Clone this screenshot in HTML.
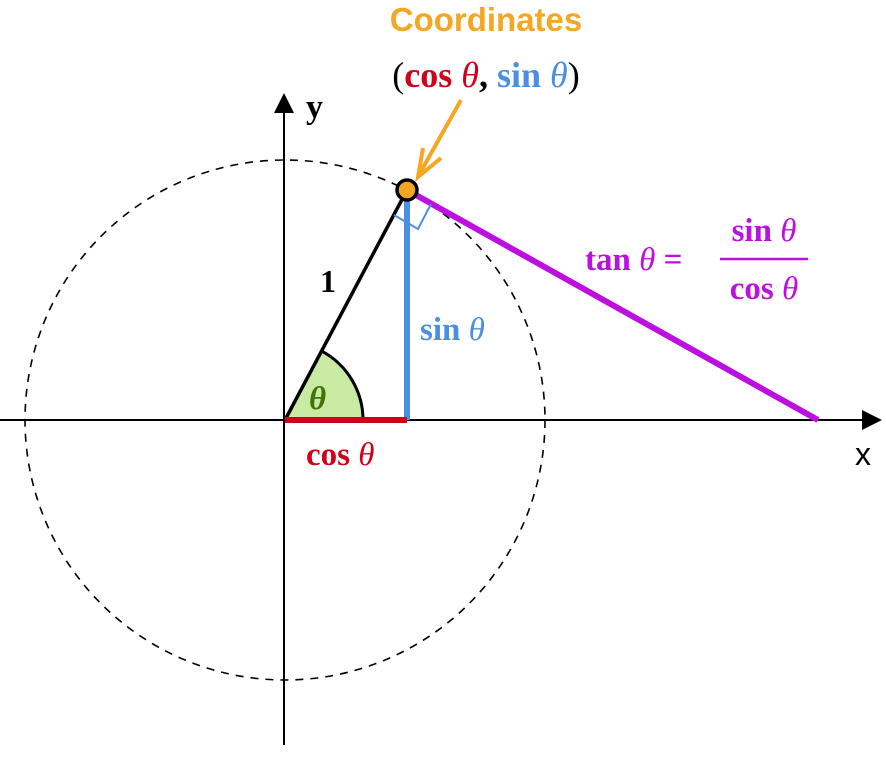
<!DOCTYPE html>
<html><head><meta charset="utf-8"><style>
html,body{margin:0;padding:0;background:#fff;}
svg{display:block;}
.m{font-family:"Liberation Serif",serif;font-weight:bold;}
</style></head><body>
<svg width="886" height="758" viewBox="0 0 886 758" xmlns="http://www.w3.org/2000/svg">
<circle cx="285" cy="420" r="260" fill="none" stroke="#000" stroke-width="1.6" stroke-dasharray="8,7"/>
<line x1="0" y1="420" x2="866" y2="420" stroke="#000" stroke-width="2"/>
<polygon points="882,420 862,410 862,430" fill="#000"/>
<line x1="284" y1="745" x2="284" y2="110" stroke="#000" stroke-width="2"/>
<polygon points="284,93 274,113 294,113" fill="#000"/>
<text x="855" y="465" font-family="Liberation Sans, sans-serif" font-size="32">x</text>
<text x="306" y="118" class="m" font-weight="normal" font-size="34">y</text>
<path d="M285,420 L321.6,351.1 A78,78 0 0 1 363,420 Z" fill="#c8eaa2" stroke="none"/>
<path d="M321.6,351.1 A78,78 0 0 1 363,420" fill="none" stroke="#000" stroke-width="3"/>
<text x="309" y="409" class="m" font-size="33" font-style="italic" font-weight="normal" fill="#417505">θ</text>
<line x1="285" y1="420" x2="407" y2="190" stroke="#000" stroke-width="3.5"/>
<text x="320" y="292" class="m" font-weight="normal" font-size="32">1</text>
<line x1="407" y1="190" x2="818" y2="420" stroke="#bd10e0" stroke-width="6"/>
<line x1="407" y1="192" x2="407" y2="420" stroke="#4a90e2" stroke-width="6"/>
<line x1="285" y1="420" x2="407" y2="420" stroke="#d0021b" stroke-width="6"/>
<polyline points="394,215 418,229 431,204" fill="none" stroke="#4a90e2" stroke-width="2"/>
<circle cx="407" cy="190" r="10" fill="#f5a623" stroke="#000" stroke-width="3.5"/>
<line x1="461" y1="100" x2="420" y2="173" stroke="#f5a623" stroke-width="4"/>
<polyline points="423,148 418,177 441,158" fill="none" stroke="#f5a623" stroke-width="4"/>
<text x="486" y="31" text-anchor="middle" font-family="Liberation Sans, sans-serif" font-weight="bold" font-size="33" fill="#f5a623">Coordinates</text>
<text x="486" y="87" text-anchor="middle" class="m" font-size="36"><tspan fill="#000" font-weight="normal">(</tspan><tspan fill="#d0021b">cos </tspan><tspan fill="#d0021b" font-style="italic" font-weight="normal">θ</tspan><tspan fill="#000">, </tspan><tspan fill="#4a90e2">sin </tspan><tspan fill="#4a90e2" font-style="italic" font-weight="normal">θ</tspan><tspan fill="#000" font-weight="normal">)</tspan></text>
<text x="420" y="340" class="m" font-size="33" fill="#4a90e2">sin <tspan font-style="italic" font-weight="normal">θ</tspan></text>
<text x="306" y="465" class="m" font-size="33" fill="#d0021b">cos <tspan font-style="italic" font-weight="normal">θ</tspan></text>
<g fill="#bd10e0" class="m" font-size="33">
<text x="585" y="270">tan <tspan font-style="italic" font-weight="normal">θ</tspan> =</text>
<text x="764" y="241" text-anchor="middle">sin <tspan font-style="italic" font-weight="normal">θ</tspan></text>
<text x="764" y="299" text-anchor="middle">cos <tspan font-style="italic" font-weight="normal">θ</tspan></text>
</g>
<line x1="720" y1="259" x2="808" y2="259" stroke="#bd10e0" stroke-width="2.5"/>
</svg>
</body></html>
